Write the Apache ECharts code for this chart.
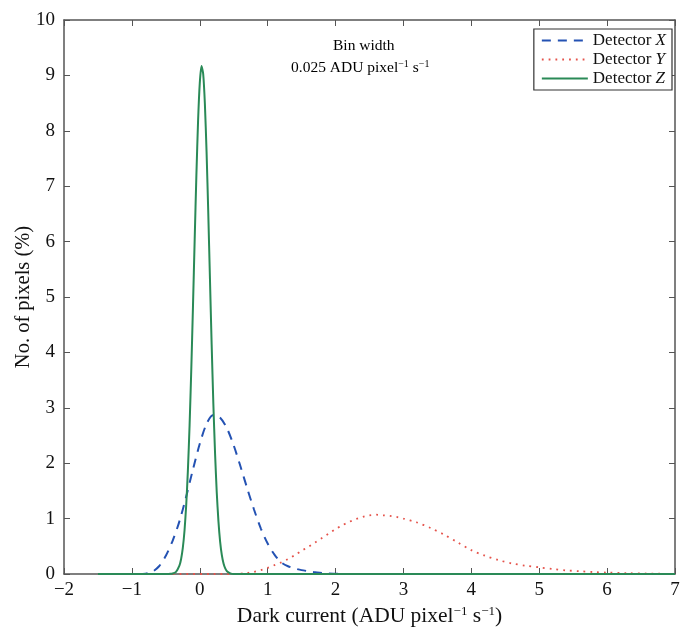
<!DOCTYPE html>
<html><head><meta charset="utf-8">
<script src="https://cdn.jsdelivr.net/npm/echarts@6/dist/echarts.min.js"></script>
<style>html,body{margin:0;padding:0;background:#fff}#c{width:681px;height:628px}</style>
</head><body><div id="c"></div>
<script>
// Detector X (dashed blue)
const xX = [-0.9,-0.8,-0.7,-0.6,-0.5,-0.4,-0.3,-0.2,-0.1,0,0.1,0.2,0.3,0.4,0.5,0.6,0.7,0.8,0.9,1.0,1.1,1.2,1.3,1.4,1.5,1.6,1.7,1.8,1.9,2.0,2.1,2.2];
const yX = [0,0.005,0.04,0.14,0.33,0.6,0.95,1.4,1.89,2.35,2.71,2.87,2.82,2.63,2.32,1.94,1.54,1.16,0.82,0.55,0.35,0.21,0.14,0.1,0.07,0.05,0.03,0.02,0.01,0.005,0,0];
// Detector Y (dotted red)
const xY = [-1.5,0.5,0.7,0.8,0.9,1.0,1.1,1.2,1.3,1.4,1.5,1.6,1.7,1.8,1.9,2.0,2.1,2.2,2.3,2.4,2.5,2.6,2.7,2.8,2.9,3.0,3.2,3.4,3.6,3.8,4.0,4.2,4.4,4.6,4.8,5.0,5.2,5.4,5.6,5.8,6.0,6.3,6.6,7.0];
const yY = [0,0,0.02,0.04,0.07,0.11,0.16,0.21,0.27,0.34,0.42,0.49,0.57,0.65,0.73,0.81,0.88,0.94,0.99,1.03,1.06,1.07,1.06,1.05,1.03,1.0,0.93,0.83,0.71,0.57,0.43,0.33,0.25,0.19,0.15,0.12,0.09,0.065,0.05,0.035,0.025,0.015,0.008,0];
// Detector Z (solid green)
const xZ = [-1.5,-0.5,-0.45,-0.4,-0.35,-0.3,-0.275,-0.25,-0.225,-0.2,-0.175,-0.15,-0.125,-0.1,-0.075,-0.05,-0.025,0,0.025,0.05,0.075,0.1,0.125,0.15,0.175,0.2,0.225,0.25,0.275,0.3,0.325,0.35,0.375,0.4,0.45,0.5,7.0];
const yZ = [0,0,0.002,0.008,0.04,0.15,0.27,0.47,0.78,1.24,1.87,2.69,3.7,4.84,6.04,7.2,8.18,8.86,9.17,9.03,8.49,7.62,6.52,5.32,4.14,3.07,2.18,1.47,0.95,0.58,0.34,0.19,0.1,0.05,0.012,0,0];
const xTicks = [-2,-1,0,1,2,3,4,5,6,7];
const yTicks = [0,1,2,3,4,5,6,7,8,9,10];

const pairs = (xs, ys) => xs.map((x, i) => [x, ys[i]]);
const serif = '"Liberation Serif", "DejaVu Serif", serif';
const axisColor = '#555';
const fmtNum = v => (v < 0 ? '\u2212' + Math.abs(v) : String(v));
const supRich = {
  n: {fontFamily: serif, fontSize: 21.5, color: '#111'},
  s: {fontFamily: serif, fontSize: 13, color: '#111', padding: [0,0,10,0]},
  a: {fontFamily: serif, fontSize: 15.5, color: '#111'},
  as: {fontFamily: serif, fontSize: 10, color: '#111', padding: [0,0,7,0]},
  l: {fontFamily: serif, fontSize: 17, color: '#111'},
  li: {fontFamily: serif, fontSize: 17, color: '#111', fontStyle: 'italic'}
};

const chart = echarts.init(document.getElementById('c'));
chart.setOption({
  animation: false,
  backgroundColor: '#fff',
  grid: {left: 64, right: 6, top: 20, bottom: 54, containLabel: false, outerBoundsMode: 'none'},
  xAxis: [{
    type: 'value', min: xTicks[0], max: xTicks[xTicks.length-1], interval: 1,
    axisLine: {show: true, onZero: false, lineStyle: {color: axisColor, width: 1.5}},
    axisTick: {show: true, inside: true, length: 6, lineStyle: {color: axisColor}},
    axisLabel: {fontFamily: serif, fontSize: 19, color: '#111', margin: 7, formatter: fmtNum},
    splitLine: {show: false},
    name: '{n|Dark current (ADU pixel}{s|\u22121}{n| s}{s|\u22121}{n|)}',
    nameLocation: 'middle', nameGap: 27,
    nameTextStyle: {rich: supRich}
  }, {
    type: 'value', min: xTicks[0], max: xTicks[xTicks.length-1], interval: 1, position: 'top',
    axisLine: {show: true, onZero: false, lineStyle: {color: axisColor, width: 1.5}},
    axisTick: {show: true, inside: true, length: 6, lineStyle: {color: axisColor}},
    axisLabel: {show: false}, splitLine: {show: false}
  }],
  yAxis: [{
    type: 'value', min: yTicks[0], max: yTicks[yTicks.length-1], interval: 1,
    axisLine: {show: true, onZero: false, lineStyle: {color: axisColor, width: 1.5}},
    axisTick: {show: true, inside: true, length: 6, lineStyle: {color: axisColor}},
    axisLabel: {fontFamily: serif, fontSize: 19, color: '#111', margin: 9},
    splitLine: {show: false},
    name: 'No. of pixels (%)', nameLocation: 'middle', nameGap: 30, nameMoveOverlap: false,
    nameTextStyle: {fontFamily: serif, fontSize: 20.5, color: '#111'}
  }, {
    type: 'value', min: yTicks[0], max: yTicks[yTicks.length-1], interval: 1, position: 'right',
    axisLine: {show: true, onZero: false, lineStyle: {color: axisColor, width: 1.5}},
    axisTick: {show: true, inside: true, length: 6, lineStyle: {color: axisColor}},
    axisLabel: {show: false}, splitLine: {show: false}
  }],
  legend: {
    orient: 'vertical', right: 9, top: 29,
    backgroundColor: '#fff', borderColor: '#333', borderWidth: 1.2,
    padding: [3, 6, 3, 7], itemGap: 2, itemWidth: 46, itemHeight: 17,
    itemStyle: {opacity: 0},
    formatter: n => '{l|Detector }{li|' + n.slice(-1) + '}',
    textStyle: {rich: supRich},
    data: ['Detector X', 'Detector Y', 'Detector Z']
  },
  graphic: [{
    type: 'text', left: 333, top: 38,
    style: {text: '{a|Bin width}', rich: supRich}
  }, {
    type: 'text', left: 291, top: 59,
    style: {text: '{a|0.025 ADU pixel}{as|\u22121}{a| s}{as|\u22121}', rich: supRich}
  }],
  series: [{
    name: 'Detector X', type: 'line', data: pairs(xX, yX), symbol: 'none', smooth: 0.3,
    lineStyle: {color: '#2452b3', width: 2, type: [9, 7]}, itemStyle: {color: '#2452b3'}
  }, {
    name: 'Detector Y', type: 'line', data: pairs(xY, yY), symbol: 'none', smooth: 0.3,
    lineStyle: {color: '#e5534b', width: 1.8, type: [1.8, 5]}, itemStyle: {color: '#e5534b'}
  }, {
    name: 'Detector Z', type: 'line', data: pairs(xZ, yZ), symbol: 'none', smooth: 0.2,
    lineStyle: {color: '#2a8a57', width: 2}, itemStyle: {color: '#2a8a57'}
  }]
});
</script></body></html>
